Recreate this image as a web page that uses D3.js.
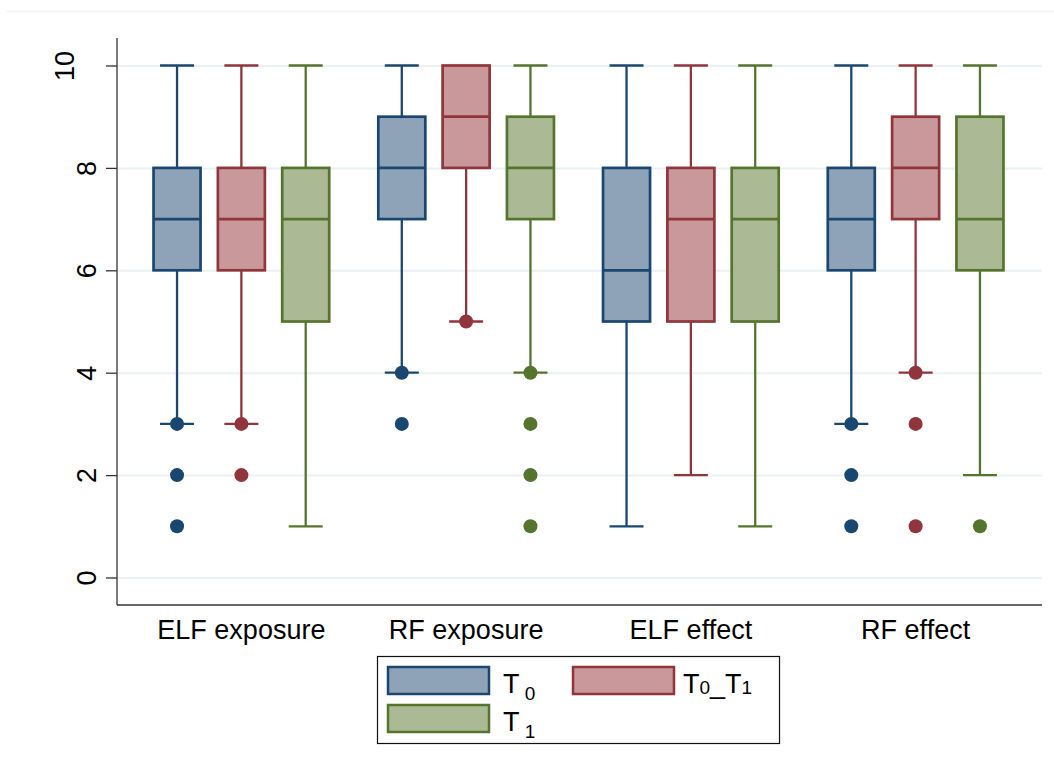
<!DOCTYPE html>
<html>
<head>
<meta charset="utf-8">
<script src="https://cdn.jsdelivr.net/npm/d3@7"></script>
<style>
  html, body { margin: 0; padding: 0; background: #ffffff; }
  svg { display: block; font-family: "Liberation Sans", Arial, sans-serif; }
</style>
</head>
<body>
<svg id="chart" width="1054" height="769"></svg>
<script>
// ---- data ----
const categories = ["ELF exposure", "RF exposure", "ELF effect", "RF effect"];
const seriesNames = ["T0", "T0_T1", "T1"];
const yTicks = [0, 2, 4, 6, 8, 10];

// T0
const t0Low  = [3, 4, 1, 3];
const t0Q1   = [6, 7, 5, 6];
const t0Med  = [7, 8, 6, 7];
const t0Q3   = [8, 9, 8, 8];
const t0High = [10, 10, 10, 10];
const t0Out  = [[3, 2, 1], [4, 3], [], [3, 2, 1]];
// T0_T1
const t01Low  = [3, 5, 2, 4];
const t01Q1   = [6, 8, 5, 7];
const t01Med  = [7, 9, 7, 8];
const t01Q3   = [8, 10, 8, 9];
const t01High = [10, 10, 10, 10];
const t01Out  = [[3, 2], [5], [], [4, 3, 1]];
// T1
const t1Low  = [1, 4, 1, 2];
const t1Q1   = [5, 7, 5, 6];
const t1Med  = [7, 8, 7, 7];
const t1Q3   = [8, 9, 8, 9];
const t1High = [10, 10, 10, 10];
const t1Out  = [[], [4, 3, 2, 1], [], [1]];

const strokeColors = ["#1a476f", "#90353b", "#55752f"];
const fillColors   = ["#8fa3b8", "#c9989b", "#abba95"];

// ---- build records ----
const stats = [
  {low: t0Low, q1: t0Q1, med: t0Med, q3: t0Q3, high: t0High, out: t0Out},
  {low: t01Low, q1: t01Q1, med: t01Med, q3: t01Q3, high: t01High, out: t01Out},
  {low: t1Low, q1: t1Q1, med: t1Med, q3: t1Q3, high: t1High, out: t1Out}
];
const boxes = [];
categories.forEach((c, ci) => {
  seriesNames.forEach((s, si) => {
    const st = stats[si];
    boxes.push({cat: c, series: s, si: si,
      low: st.low[ci], q1: st.q1[ci], med: st.med[ci], q3: st.q3[ci], high: st.high[ci], out: st.out[ci]});
  });
});

// ---- layout ----
const svg = d3.select("#chart");
const axisX = 117, plotRight = 1042, plotTop = 38, plotBottom = 605;
const boxW = 47, capW = 34, dotR = 7;
const FONT = '"Liberation Sans", Arial, sans-serif';

const y = d3.scaleLinear().domain([0, 10]).range([577.5, 65.5]);
const x = d3.scaleBand().domain(categories).range([129, 1028]).padding(0);
const xs = d3.scaleBand().domain(seriesNames).range([-96.5, 96.5]).padding(0);
const cx = d => x(d.cat) + x.bandwidth() / 2 + xs(d.series) + xs.bandwidth() / 2;

// faint outer top line
svg.append("line").attr("x1", 6).attr("x2", 1054).attr("y1", 11.5).attr("y2", 11.5)
  .attr("stroke", "#f1f3f4").attr("stroke-width", 1.5);

// gridlines
const grid = svg.append("g").attr("transform", `translate(${axisX},0)`)
  .call(d3.axisLeft(y).tickValues(yTicks).tickSize(-(plotRight - axisX)).tickFormat(""));
grid.select(".domain").remove();
grid.selectAll(".tick line").attr("stroke", "#eaf1f3").attr("stroke-width", 2);

// boxes
const g = svg.append("g");
const bg = g.selectAll("g.box").data(boxes).join("g").attr("class", "box");
const WW = 2.3;

// whiskers
bg.filter(d => d.high > d.q3).append("line")
  .attr("x1", cx).attr("x2", cx).attr("y1", d => y(d.q3)).attr("y2", d => y(d.high))
  .attr("stroke", d => strokeColors[d.si]).attr("stroke-width", WW);
bg.filter(d => d.low < d.q1).append("line")
  .attr("x1", cx).attr("x2", cx).attr("y1", d => y(d.q1)).attr("y2", d => y(d.low))
  .attr("stroke", d => strokeColors[d.si]).attr("stroke-width", WW);
// caps
bg.filter(d => d.high > d.q3).append("line")
  .attr("x1", d => cx(d) - capW / 2).attr("x2", d => cx(d) + capW / 2)
  .attr("y1", d => y(d.high)).attr("y2", d => y(d.high))
  .attr("stroke", d => strokeColors[d.si]).attr("stroke-width", WW);
bg.filter(d => d.low < d.q1).append("line")
  .attr("x1", d => cx(d) - capW / 2).attr("x2", d => cx(d) + capW / 2)
  .attr("y1", d => y(d.low)).attr("y2", d => y(d.low))
  .attr("stroke", d => strokeColors[d.si]).attr("stroke-width", WW);
// box
bg.append("rect")
  .attr("x", d => cx(d) - boxW / 2).attr("width", boxW)
  .attr("y", d => y(d.q3)).attr("height", d => y(d.q1) - y(d.q3))
  .attr("fill", d => fillColors[d.si]).attr("stroke", d => strokeColors[d.si]).attr("stroke-width", 2.7);
// median
bg.append("line")
  .attr("x1", d => cx(d) - boxW / 2).attr("x2", d => cx(d) + boxW / 2)
  .attr("y1", d => y(d.med)).attr("y2", d => y(d.med))
  .attr("stroke", d => strokeColors[d.si]).attr("stroke-width", 2.7);
// outliers
bg.selectAll("circle").data(d => d.out.map(v => ({v: v, d: d}))).join("circle")
  .attr("cx", o => cx(o.d)).attr("cy", o => y(o.v)).attr("r", dotR)
  .attr("fill", o => strokeColors[o.d.si]);

// y axis
const ya = svg.append("g").attr("transform", `translate(${axisX},0)`)
  .call(d3.axisLeft(y).tickValues(yTicks).tickSize(11).tickSizeOuter(0));
ya.select(".domain").remove();
ya.selectAll(".tick line").attr("stroke", "#333").attr("stroke-width", 1.3);
ya.selectAll(".tick text")
  .attr("transform", "rotate(-90)").attr("x", 0)
  .attr("y", d => -21 - (String(d).length - 1) * 22).attr("dy", 0)
  .attr("text-anchor", "middle").attr("fill", "#000")
  .style("font-size", "27px").style("font-family", FONT);
svg.append("line").attr("x1", axisX).attr("x2", axisX).attr("y1", plotTop).attr("y2", plotBottom)
  .attr("stroke", "#333").attr("stroke-width", 1.3);

// x axis
svg.append("line").attr("x1", axisX).attr("x2", plotRight).attr("y1", plotBottom).attr("y2", plotBottom)
  .attr("stroke", "#333").attr("stroke-width", 1.3);
const xa = svg.append("g").attr("transform", `translate(0,${plotBottom})`)
  .call(d3.axisBottom(x).tickSize(0));
xa.select(".domain").remove();
xa.selectAll(".tick text").attr("y", 34).attr("dy", 0).attr("fill", "#000")
  .style("font-size", "27px").style("font-family", FONT);

// legend
const legend = svg.append("g");
legend.append("rect").attr("x", 377.5).attr("y", 656.5).attr("width", 402).attr("height", 87)
  .attr("fill", "#fff").attr("stroke", "#111").attr("stroke-width", 1.2);
const legPos = [[388, 667, 115], [573, 667, 110], [388, 705, 115]];
const legLabels = [[["T", 0], [" 0", 1]], [["T", 0], ["0", 2], ["_", 3], ["T", 0], ["1", 2]], [["T", 0], [" 1", 1]]];
seriesNames.forEach((s, i) => {
  const [lx, ly, tx] = legPos[i];
  legend.append("rect").attr("x", lx).attr("y", ly).attr("width", 101).attr("height", 27)
    .attr("fill", fillColors[i]).attr("stroke", strokeColors[i]).attr("stroke-width", 2.5);
  const t = legend.append("text").attr("x", lx + tx).attr("y", ly + 26)
    .style("font-size", "27px").attr("fill", "#000");
  legLabels[i].forEach(([str, kind]) => {
    const sp = t.append("tspan").text(str);
    if (kind === 1) { sp.style("font-size", "19px").attr("dy", 7); }
    if (kind === 2) { sp.style("font-size", "19px").attr("dy", 1); }
    if (kind === 3) { sp.attr("dy", -1); }
  });
});
</script>
</body>
</html>
